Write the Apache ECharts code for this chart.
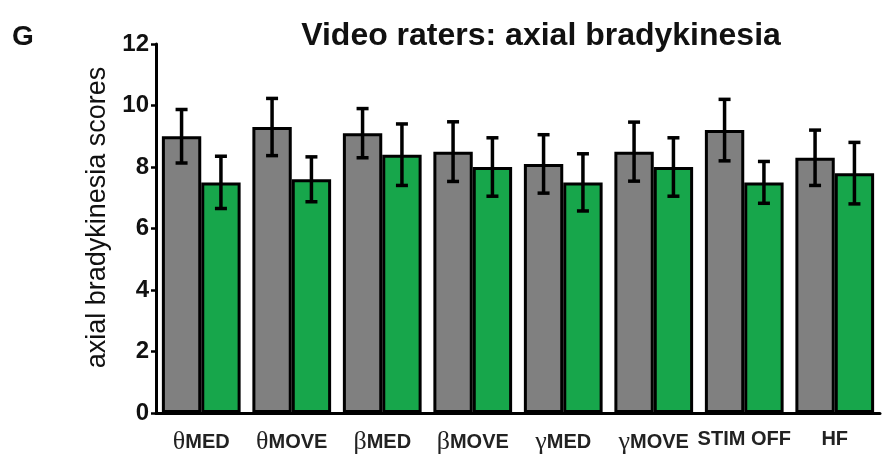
<!DOCTYPE html>
<html>
<head>
<meta charset="utf-8">
<script src="https://cdn.jsdelivr.net/npm/echarts@6/dist/echarts.min.js"></script>
<style>
  html, body { margin: 0; padding: 0; background: #fff; }
  #chart { width: 890px; height: 466px; }
</style>
</head>
<body>
<div id="chart"></div>
<script>
// Condition groups: Greek band prefix + condition name
const prefixes = ['θ', 'θ', 'β', 'β', 'γ', 'γ', '', ''];
const names = ['MED', 'MOVE', 'MED', 'MOVE', 'MED', 'MOVE', 'STIM OFF', 'HF'];

// Mean scores for the two conditions in each group
const grayMeans  = [9.0, 9.3, 9.1, 8.5, 8.1, 8.5, 9.2, 8.3];
const greenMeans = [7.5, 7.6, 8.4, 8.0, 7.5, 8.0, 7.5, 7.8];

// Error bar half-widths (SEM)
const grayErr  = [0.87, 0.93, 0.80, 0.97, 0.95, 0.96, 1.00, 0.90];
const greenErr = [0.85, 0.73, 1.00, 0.95, 0.93, 0.95, 0.68, 1.00];

const yTicks = [0, 2, 4, 6, 8, 10, 12];

const categories = names.map((n, i) => prefixes[i] + n);

const chart = echarts.init(document.getElementById('chart'));

const CAT_GAP = 0.13;

function errorSeries(means, errs, seriesIndex) {
  return {
    type: 'custom',
    z: 10,
    data: means.map((m, i) => [i, m - errs[i], m + errs[i]]),
    renderItem: function (params, api) {
      const idx = api.value(0);
      const lo = api.coord([idx, api.value(1)]);
      const hi = api.coord([idx, api.value(2)]);
      const band = api.size([1, 0])[0];
      const barW = band * (1 - CAT_GAP) / 2;
      const cx = lo[0] + (seriesIndex === 0 ? -barW / 2 : barW / 2);
      const cap = 6;
      const style = { stroke: '#000', lineWidth: 3.5 };
      return {
        type: 'group',
        children: [
          { type: 'line', shape: { x1: cx, y1: lo[1], x2: cx, y2: hi[1] }, style },
          { type: 'line', shape: { x1: cx - cap, y1: lo[1], x2: cx + cap, y2: lo[1] }, style },
          { type: 'line', shape: { x1: cx - cap, y1: hi[1], x2: cx + cap, y2: hi[1] }, style }
        ]
      };
    }
  };
}

chart.setOption({
  animation: false,
  backgroundColor: '#fff',
  title: [
    {
      text: 'Video raters: axial bradykinesia',
      left: 536, top: 15, textAlign: 'center',
      textStyle: { fontFamily: 'Liberation Sans, Arial, sans-serif', fontWeight: 'bold', fontSize: 32, color: '#111' }
    },
    {
      text: 'G',
      left: 7, top: 18,
      textStyle: { fontFamily: 'Liberation Sans, Arial, sans-serif', fontWeight: 'bold', fontSize: 28, color: '#111' }
    }
  ],
  grid: { left: 156, right: 10, top: 44, bottom: 53 },
  xAxis: {
    type: 'category',
    data: categories,
    axisLine: { lineStyle: { color: '#000', width: 3 } },
    axisTick: { show: false },
    axisLabel: {
      interval: 0,
      margin: 16,
      formatter: function (v, i) {
        const p = prefixes[i];
        return (p ? '{g|' + p + '}' : '') + '{t|' + names[i] + '}';
      },
      rich: {
        g: { fontFamily: 'Liberation Serif, Times New Roman, serif', fontSize: 26, color: '#222' },
        t: { fontFamily: 'Liberation Sans, Arial, sans-serif', fontWeight: 'bold', fontSize: 20, color: '#222' }
      }
    }
  },
  yAxis: {
    type: 'value',
    min: 0, max: 12, interval: 2,
    name: 'axial bradykinesia scores',
    nameLocation: 'middle',
    nameGap: 44,
    nameTextStyle: {
      fontFamily: 'Liberation Sans, Arial, sans-serif', fontSize: 27, color: '#111',
      padding: [0, 0, 0, 22]
    },
    axisLine: { show: true, lineStyle: { color: '#000', width: 3 } },
    axisTick: { show: true, length: 5, lineStyle: { color: '#000', width: 2.5 } },
    axisLabel: {
      margin: 7,
      fontFamily: 'Liberation Sans, Arial, sans-serif', fontWeight: 'bold', fontSize: 24, color: '#111',
      formatter: v => yTicks.includes(v) ? String(v) : ''
    },
    splitLine: { show: false }
  },
  series: [
    {
      type: 'bar', data: grayMeans, barGap: '0%', barCategoryGap: (CAT_GAP * 100) + '%',
      itemStyle: { color: '#808080', borderColor: '#000', borderWidth: 3 }
    },
    {
      type: 'bar', data: greenMeans, barGap: '0%', barCategoryGap: (CAT_GAP * 100) + '%',
      itemStyle: { color: '#17a64b', borderColor: '#000', borderWidth: 3 }
    },
    errorSeries(grayMeans, grayErr, 0),
    errorSeries(greenMeans, greenErr, 1)
  ]
});
</script>
</body>
</html>
